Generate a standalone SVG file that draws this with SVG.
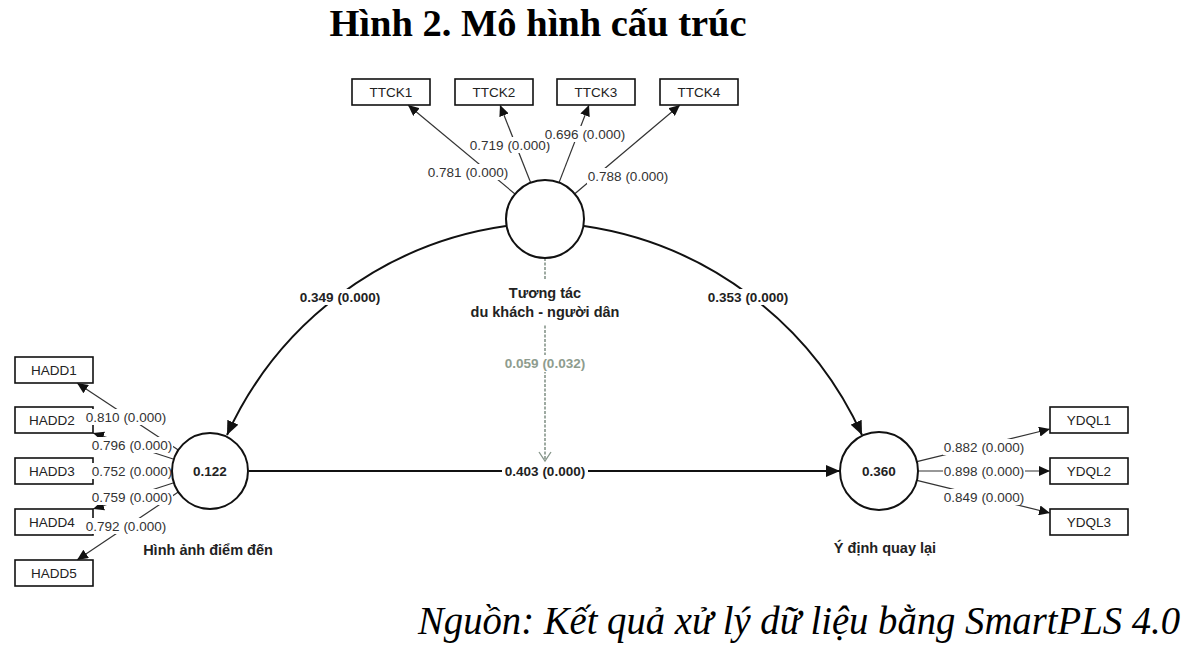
<svg xmlns="http://www.w3.org/2000/svg" width="1190" height="646" viewBox="0 0 1190 646">
<style>
.box{fill:#fff;stroke:#111;stroke-width:1.6}
.lv{fill:#fff;stroke:#111;stroke-width:2}
.bt{font-family:"Liberation Sans",Arial,sans-serif;font-size:13.5px;fill:#222;text-anchor:middle}
.lt{font-family:"Liberation Sans",Arial,sans-serif;font-size:13.5px;fill:#333;text-anchor:middle}
.pt{font-family:"Liberation Sans",Arial,sans-serif;font-size:13.5px;font-weight:bold;fill:#222;text-anchor:middle}
.ct{font-family:"Liberation Sans",Arial,sans-serif;font-size:14.5px;font-weight:bold;fill:#222;text-anchor:middle}
.ind{stroke:#333;stroke-width:1.2;fill:none}
.str{stroke:#111;stroke-width:2;fill:none}
.bg{fill:#fff}
</style>
<defs>
<marker id="ai" markerUnits="userSpaceOnUse" markerWidth="11" markerHeight="10" refX="11" refY="5" orient="auto"><path d="M0,0 L11,5 L0,10 z" fill="#111"/></marker>
<marker id="as" markerUnits="userSpaceOnUse" markerWidth="14" markerHeight="12" refX="14" refY="6" orient="auto"><path d="M0,0 L14,6 L0,12 z" fill="#111"/></marker>
<marker id="ao" markerUnits="userSpaceOnUse" markerWidth="12" markerHeight="14" refX="10" refY="7" orient="auto"><path d="M1,1 L10,7 L1,13" fill="none" stroke="#86958a" stroke-width="1.3"/></marker>
</defs>
<rect width="1190" height="646" fill="#fff"/>
<text x="538" y="36" font-family="'Liberation Serif','Times New Roman',serif" font-size="38.5" font-weight="bold" text-anchor="middle" fill="#000">Hình 2. Mô hình cấu trúc</text>

<g id="TTCK1"><rect class="box" x="352" y="79" width="78" height="26"/><text class="bt" x="391" y="97">TTCK1</text></g>
<g id="TTCK2"><rect class="box" x="455" y="79" width="78" height="26"/><text class="bt" x="494" y="97">TTCK2</text></g>
<g id="TTCK3"><rect class="box" x="557" y="79" width="78" height="26"/><text class="bt" x="596" y="97">TTCK3</text></g>
<g id="TTCK4"><rect class="box" x="660" y="79" width="78" height="26"/><text class="bt" x="699" y="97">TTCK4</text></g>

<g id="HADD1"><rect class="box" x="15" y="357" width="78" height="26"/><text class="bt" x="54" y="375">HADD1</text></g>
<g id="HADD2"><rect class="box" x="15" y="407" width="78" height="26"/><text class="bt" x="52" y="425">HADD2</text></g>
<g id="HADD3"><rect class="box" x="15" y="458" width="78" height="26"/><text class="bt" x="52" y="476">HADD3</text></g>
<g id="HADD4"><rect class="box" x="15" y="509" width="78" height="26"/><text class="bt" x="52" y="527">HADD4</text></g>
<g id="HADD5"><rect class="box" x="15" y="560" width="78" height="26"/><text class="bt" x="54" y="578">HADD5</text></g>

<g id="YDQL1"><rect class="box" x="1050" y="407" width="78" height="26"/><text class="bt" x="1089" y="425">YDQL1</text></g>
<g id="YDQL2"><rect class="box" x="1050" y="458" width="78" height="26"/><text class="bt" x="1089" y="476">YDQL2</text></g>
<g id="YDQL3"><rect class="box" x="1050" y="509" width="78" height="26"/><text class="bt" x="1089" y="527">YDQL3</text></g>

<g id="connectors">
<line class="ind" x1="515" y1="194" x2="408" y2="105" marker-end="url(#ai)"/>
<line class="ind" x1="530.7" y1="182.7" x2="500" y2="105" marker-end="url(#ai)"/>
<line class="ind" x1="559" y1="182.6" x2="589" y2="105" marker-end="url(#ai)"/>
<line class="ind" x1="574.8" y1="193.8" x2="680" y2="105" marker-end="url(#ai)"/>
<line class="ind" x1="178.3" y1="450" x2="77" y2="383" marker-end="url(#ai)"/>
<line class="ind" x1="173.9" y1="459.3" x2="93" y2="433" marker-end="url(#ai)"/>
<line class="ind" x1="172" y1="471" x2="93" y2="471" marker-end="url(#ai)"/>
<line class="ind" x1="173.9" y1="482.7" x2="93" y2="509" marker-end="url(#ai)"/>
<line class="ind" x1="178.3" y1="492" x2="77" y2="560" marker-end="url(#ai)"/>
<line class="ind" x1="916.9" y1="461.7" x2="1050" y2="429" marker-end="url(#ai)"/>
<line class="ind" x1="918" y1="471" x2="1050" y2="471" marker-end="url(#ai)"/>
<line class="ind" x1="916.9" y1="480.3" x2="1050" y2="513" marker-end="url(#ai)"/>
<path class="str" d="M506,226 A363,363 0 0 0 227,435" marker-end="url(#as)"/>
<path class="str" d="M584,226 A363,363 0 0 1 862,435" marker-end="url(#as)"/>
<line class="str" x1="249" y1="471" x2="840" y2="471" marker-end="url(#as)"/>
<line x1="545" y1="258" x2="545" y2="461" stroke="#86958a" stroke-width="1.6" stroke-dasharray="3,1.5" marker-end="url(#ao)"/>
<rect class="bg" x="427" y="164" width="82" height="16"/><text class="lt" x="468" y="177">0.781 (0.000)</text>
<rect class="bg" x="469" y="137" width="82" height="16"/><text class="lt" x="510" y="150">0.719 (0.000)</text>
<rect class="bg" x="544" y="126" width="82" height="16"/><text class="lt" x="585" y="139">0.696 (0.000)</text>
<rect class="bg" x="587" y="168" width="82" height="16"/><text class="lt" x="628" y="181">0.788 (0.000)</text>
<rect class="bg" x="85" y="409" width="82" height="16"/><text class="lt" x="126" y="422">0.810 (0.000)</text>
<rect class="bg" x="91" y="437" width="82" height="16"/><text class="lt" x="132" y="450">0.796 (0.000)</text>
<rect class="bg" x="91" y="463" width="82" height="16"/><text class="lt" x="132" y="476">0.752 (0.000)</text>
<rect class="bg" x="91" y="489" width="82" height="16"/><text class="lt" x="132" y="502">0.759 (0.000)</text>
<rect class="bg" x="85" y="518" width="82" height="16"/><text class="lt" x="126" y="531">0.792 (0.000)</text>
<rect class="bg" x="943" y="439" width="82" height="16"/><text class="lt" x="984" y="452">0.882 (0.000)</text>
<rect class="bg" x="943" y="463" width="82" height="16"/><text class="lt" x="984" y="476">0.898 (0.000)</text>
<rect class="bg" x="943" y="489" width="82" height="16"/><text class="lt" x="984" y="502">0.849 (0.000)</text>
<rect class="bg" x="298" y="289" width="84" height="16"/><text class="pt" x="340" y="302">0.349 (0.000)</text>
<rect class="bg" x="706" y="289" width="84" height="16"/><text class="pt" x="748" y="302">0.353 (0.000)</text>
<rect class="bg" x="502" y="463" width="86" height="16"/><text class="pt" x="545" y="476">0.403 (0.000)</text>
<rect class="bg" x="503" y="355" width="84" height="17"/><text class="pt" x="545" y="368" style="fill:#8e9c8e">0.059 (0.032)</text>
</g>

<g id="TTCK">
<circle class="lv" cx="545" cy="219" r="39"/>
<rect class="bg" x="465" y="280" width="160" height="44"/>
<text class="ct" x="545" y="298">Tương tác</text>
<text class="ct" x="545" y="317">du khách - người dân</text>
</g>
<g id="HADD">
<circle class="lv" cx="210" cy="471" r="38"/>
<text class="pt" x="210" y="476">0.122</text>
<text class="ct" x="208" y="555">Hình ảnh điểm đến</text>
</g>
<g id="YDQL">
<circle class="lv" cx="879" cy="471" r="39"/>
<text class="pt" x="879" y="476">0.360</text>
<text class="ct" x="885" y="553">Ý định quay lại</text>
</g>

<text x="418" y="634" font-family="'Liberation Serif','Times New Roman',serif" font-size="39" font-style="italic" fill="#000" textLength="762" lengthAdjust="spacingAndGlyphs">Nguồn: Kết quả xử lý dữ liệu bằng SmartPLS 4.0</text>
</svg>
